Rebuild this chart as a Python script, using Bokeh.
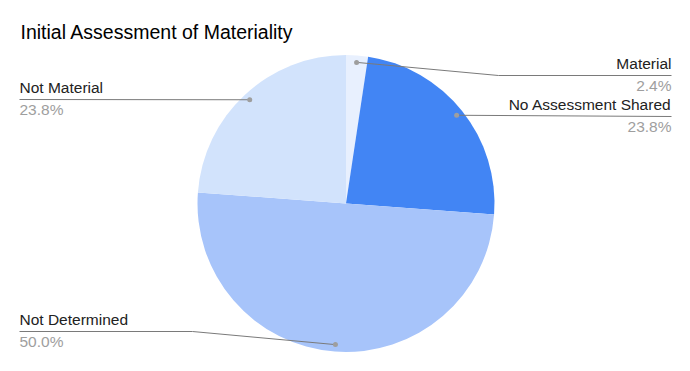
import math
from bokeh.plotting import figure
from bokeh.models import Range1d
from bokeh.embed import file_html
from bokeh.resources import INLINE
from bokeh.core.properties import value

# ---- data ----
categories = ["Material", "No Assessment Shared", "Not Determined", "Not Material"]
counts = [1, 10, 21, 10]
colors = ["#e8f0fe", "#4285f4", "#a7c4fa", "#d2e3fc"]
title = "Initial Assessment of Materiality"

# ---- layout (page pixel coords; data y = -page y) ----
W, H = 674, 355
CX, CY, R = 345.5, 203.0, 148.5
DOT_R = 0.953 * R
label_side = ["right", "right", "left", "left"]
line_y = [75, 116, 331, 99]
elbow_x = [498, None, 192, None]
LEFT_X, RIGHT_X = 19, 671
FONT = "Liberation Sans"
TXT_SHIFT = 7.5  # compensates text baseline offset

p = figure(width=W, height=H, output_backend="svg", toolbar_location=None,
           x_range=Range1d(0, W), y_range=Range1d(-H, 0),
           min_border=0)
p.axis.visible = False
p.grid.visible = False
p.outline_line_color = None
p.background_fill_color = "white"
p.border_fill_color = "white"

total = sum(counts)
fracs = [c / total for c in counts]
starts, ends, mids = [], [], []
cum = 0.0
for f in fracs:
    starts.append(math.pi / 2 - 2 * math.pi * cum)
    ends.append(math.pi / 2 - 2 * math.pi * (cum + f))
    mids.append(math.pi / 2 - 2 * math.pi * (cum + f / 2))
    cum += f

p.wedge(x=[CX] * len(counts), y=[-CY] * len(counts), radius=R,
        start_angle=starts, end_angle=ends, direction="clock",
        fill_color=colors, line_color=None)

# leader lines, dots, labels
for i, cat in enumerate(categories):
    dx = CX + DOT_R * math.cos(mids[i])
    dy = -CY + DOT_R * math.sin(mids[i])
    ly = -line_y[i]
    end_x = RIGHT_X if label_side[i] == "right" else LEFT_X
    xs = [dx]
    ys = [dy]
    if elbow_x[i] is not None:
        xs.append(elbow_x[i]); ys.append(ly)
        xs.append(end_x); ys.append(ly)
    else:
        xs.append(end_x); ys.append(ly)
    p.line(xs, ys, line_color="#7a7a7a", line_width=1)
    p.scatter([dx], [dy], size=5, fill_color="#9e9e9e", line_color=None)
    align = "right" if label_side[i] == "right" else "left"
    p.text([end_x], [ly + 4.5 + TXT_SHIFT], text=[cat], text_font=value(FONT),
           text_font_size="15.5px", text_color="#222222",
           text_align=align, text_baseline="alphabetic")
    pct = f"{fracs[i] * 100:.1f}%"
    p.text([end_x], [ly - 17 + TXT_SHIFT], text=[pct], text_font=value(FONT),
           text_font_size="15.5px", text_color="#9e9e9e",
           text_align=align, text_baseline="alphabetic")

p.text([20], [-38.5 + TXT_SHIFT], text=[title], text_font=value(FONT),
       text_font_size="19.5px", text_color="#000000",
       text_align="left", text_baseline="alphabetic")

open("out.html", "w").write(file_html(p, INLINE))
